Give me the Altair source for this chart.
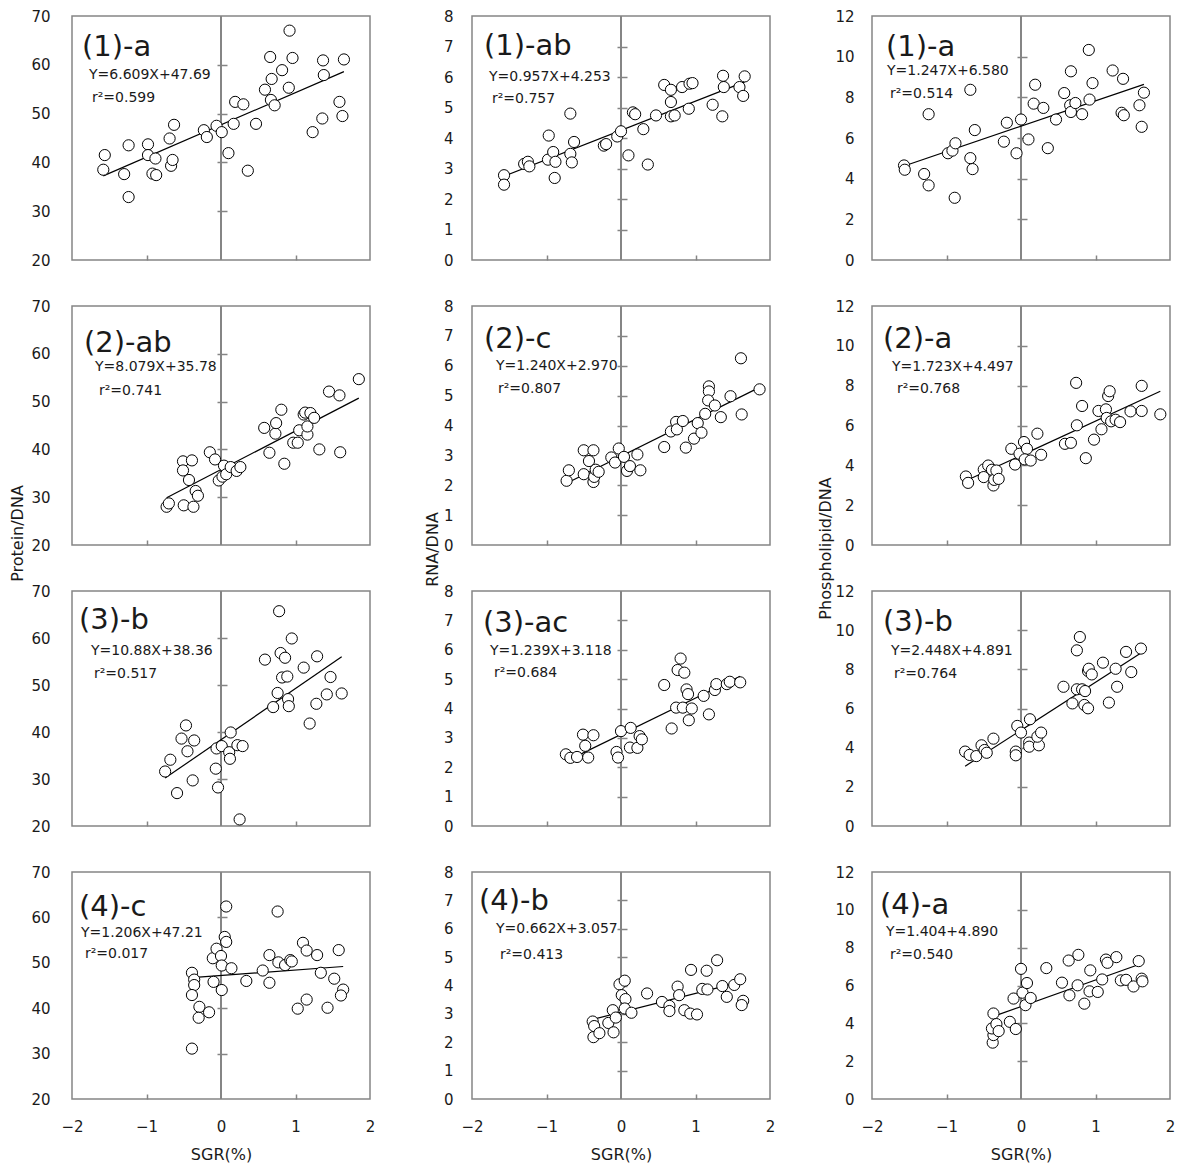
import altair as alt
import pandas as pd

FONT = "DejaVu Sans"
GRAY = "#858585"
INK = "#1a1a1a"

# ---------------- data (SGR %, ratio) ----------------
prot1_x = [-1.56,-1.58,-1.30,-1.24,-1.24,-0.98,-0.98,-0.88,-0.92,-0.87,-0.69,-0.67,-0.65,-0.63,-0.23,-0.19,-0.06,0.01,0.10,0.19,0.17,0.30,0.36,0.47,0.59,0.66,0.68,0.67,0.72,0.82,0.92,0.91,0.96,1.23,1.36,1.37,1.38,1.59,1.63,1.65]
prot1_y = [41.5,38.5,37.6,43.5,32.9,43.7,41.5,40.8,37.7,37.4,44.9,39.3,40.5,47.7,46.6,45.2,47.5,46.2,41.9,52.4,47.9,51.9,38.3,47.9,54.9,61.6,57.1,52.8,51.7,58.9,67.0,55.3,61.4,46.2,49.0,60.9,57.9,52.4,49.5,61.1]
rna1_x = [-1.57,-1.57,-1.30,-1.25,-1.23,-0.97,-0.98,-0.91,-0.88,-0.89,-0.68,-0.68,-0.66,-0.63,-0.23,-0.20,-0.05,0.00,0.10,0.16,0.19,0.30,0.36,0.47,0.58,0.67,0.67,0.67,0.72,0.82,0.92,0.96,0.91,1.23,1.37,1.38,1.36,1.59,1.66,1.64]
rna1_y = [2.78,2.47,3.15,3.22,3.07,4.08,3.29,3.54,3.22,2.69,4.80,3.48,3.20,3.87,3.75,3.80,4.05,4.22,3.43,4.84,4.78,4.29,3.13,4.74,5.74,5.58,5.18,4.71,4.74,5.67,5.78,5.80,4.96,5.09,6.04,5.67,4.71,5.67,6.02,5.38]
phos1_x = [-1.57,-1.56,-1.30,-1.24,-1.24,-0.98,-0.92,-0.88,-0.89,-0.68,-0.68,-0.65,-0.62,-0.23,-0.19,-0.06,0.00,0.10,0.17,0.19,0.30,0.36,0.47,0.58,0.67,0.66,0.67,0.73,0.82,0.91,0.92,0.96,1.23,1.37,1.35,1.38,1.59,1.65,1.62]
phos1_y = [4.65,4.44,4.23,7.17,3.67,5.25,5.38,5.74,3.06,8.37,5.01,4.47,6.39,5.82,6.75,5.25,6.91,5.93,7.69,8.62,7.48,5.50,6.91,8.21,9.28,7.61,7.28,7.72,7.17,10.33,7.89,8.70,9.32,8.91,7.24,7.12,7.61,8.23,6.55]

prot2_x = [-0.73,-0.70,-0.51,-0.51,-0.50,-0.43,-0.39,-0.37,-0.34,-0.31,-0.15,-0.08,-0.03,0.02,0.04,0.07,0.13,0.21,0.26,0.58,0.65,0.73,0.74,0.81,0.85,0.97,1.03,1.05,1.11,1.13,1.16,1.16,1.20,1.25,1.32,1.45,1.59,1.60,1.85]
prot2_y = [28.0,28.7,37.5,35.6,28.3,33.6,37.7,28.0,31.3,30.3,39.4,37.9,33.5,34.3,36.6,34.8,36.3,35.5,36.3,44.5,39.3,43.3,45.5,48.3,37.0,41.4,41.4,44.0,47.3,47.7,43.1,44.8,47.6,46.6,40.0,52.1,51.3,39.4,54.7]
rna2_x = [-0.73,-0.70,-0.50,-0.50,-0.43,-0.37,-0.37,-0.36,-0.34,-0.30,-0.13,-0.08,-0.03,0.04,0.08,0.12,0.22,0.26,0.58,0.67,0.74,0.75,0.83,0.87,0.98,1.03,1.08,1.13,1.18,1.18,1.17,1.26,1.34,1.47,1.61,1.62,1.86]
rna2_y = [2.15,2.50,3.17,2.37,2.81,3.17,2.11,2.28,2.52,2.45,2.93,2.76,3.23,2.95,2.48,2.64,3.03,2.50,3.28,3.80,4.12,3.87,4.15,3.26,3.56,4.08,3.76,4.39,5.31,5.14,4.84,4.67,4.28,4.98,6.25,4.37,5.21]
phos2_x = [-0.74,-0.71,-0.50,-0.50,-0.44,-0.39,-0.37,-0.36,-0.33,-0.30,-0.13,-0.08,-0.02,0.04,0.08,0.05,0.13,0.22,0.27,0.59,0.67,0.74,0.75,0.82,0.87,0.98,1.04,1.08,1.14,1.15,1.17,1.19,1.21,1.27,1.33,1.47,1.62,1.62,1.87]
phos2_y = [3.44,3.12,3.79,3.41,3.99,3.78,2.99,3.27,3.74,3.32,4.83,4.04,4.58,5.17,4.83,4.30,4.24,5.59,4.53,5.08,5.13,8.14,6.01,6.98,4.36,5.29,6.73,5.81,6.81,6.38,7.48,7.72,6.21,6.29,6.17,6.71,7.99,6.73,6.56]

prot3_x = [-0.75,-0.68,-0.59,-0.53,-0.47,-0.45,-0.38,-0.36,-0.07,-0.06,-0.04,0.01,0.11,0.12,0.13,0.22,0.29,0.25,0.59,0.70,0.76,0.78,0.80,0.82,0.86,0.89,0.90,0.91,0.95,1.11,1.19,1.28,1.29,1.42,1.47,1.62]
prot3_y = [31.6,34.1,27.0,38.6,41.4,35.9,29.7,38.2,32.2,36.5,28.2,37.0,35.7,34.3,39.9,37.2,37.0,21.4,55.4,45.3,48.3,65.7,56.8,51.6,55.8,51.8,47.0,45.5,59.9,53.7,41.8,46.0,56.1,48.0,51.7,48.2]
rna3_x = [-0.74,-0.68,-0.59,-0.51,-0.48,-0.44,-0.37,-0.06,-0.04,0.00,0.12,0.13,0.22,0.25,0.28,0.58,0.68,0.74,0.76,0.80,0.85,0.83,0.88,0.90,0.91,0.95,1.11,1.18,1.26,1.28,1.42,1.46,1.60]
rna3_y = [2.44,2.32,2.35,3.11,2.73,2.33,3.09,2.52,2.33,3.23,2.67,3.34,2.66,3.06,2.95,4.80,3.32,4.03,5.31,5.70,5.22,4.03,4.65,4.49,3.60,4.00,4.43,3.80,4.63,4.83,4.83,4.91,4.89]
phos3_x = [-0.75,-0.69,-0.60,-0.53,-0.49,-0.46,-0.37,-0.07,-0.07,-0.05,0.00,0.12,0.11,0.11,0.24,0.22,0.27,0.57,0.69,0.75,0.75,0.79,0.82,0.86,0.85,0.90,0.90,0.91,0.95,1.10,1.18,1.27,1.29,1.41,1.48,1.61]
phos3_y = [3.80,3.63,3.57,4.12,3.88,3.74,4.46,3.80,3.61,5.11,4.77,5.45,4.26,4.05,4.12,4.56,4.77,7.11,6.26,6.98,8.97,9.65,6.98,6.89,6.18,6.01,7.91,8.03,7.74,8.34,6.30,8.03,7.11,8.89,7.86,9.06]

prot4_x = [-0.39,-0.39,-0.36,-0.36,-0.39,-0.29,-0.30,-0.16,-0.11,-0.10,-0.06,0.00,0.01,0.01,0.05,0.07,0.07,0.14,0.34,0.56,0.65,0.65,0.77,0.76,0.86,0.93,0.95,1.03,1.10,1.15,1.15,1.29,1.34,1.43,1.52,1.58,1.64,1.61]
prot4_y = [31.1,47.8,46.3,45.1,42.9,40.3,37.9,39.1,51.0,45.8,53.1,51.5,49.4,44.0,55.7,54.6,62.4,48.8,46.0,48.3,45.6,51.7,50.1,61.3,49.5,50.6,50.3,39.9,54.4,52.7,41.9,51.7,47.8,40.1,46.5,52.8,44.1,42.8]
rna4_x = [-0.38,-0.36,-0.37,-0.29,-0.17,-0.11,-0.10,-0.07,-0.02,0.01,0.05,0.06,0.05,0.14,0.35,0.55,0.65,0.65,0.76,0.78,0.85,0.94,0.93,1.02,1.09,1.15,1.16,1.29,1.36,1.42,1.52,1.60,1.64,1.62]
rna4_y = [2.73,2.57,2.18,2.32,2.68,3.13,2.35,2.87,4.04,3.66,4.17,3.52,3.19,3.04,3.72,3.42,3.28,3.10,3.96,3.66,3.13,4.55,3.01,2.98,3.88,4.52,3.86,4.89,3.98,3.60,4.02,4.22,3.46,3.31]
phos4_x = [-0.37,-0.38,-0.37,-0.39,-0.33,-0.30,-0.15,-0.10,-0.07,0.00,0.02,0.06,0.08,0.13,0.34,0.55,0.64,0.65,0.76,0.77,0.85,0.93,0.92,1.03,1.09,1.14,1.16,1.28,1.34,1.41,1.51,1.58,1.62,1.63]
phos4_y = [4.52,2.98,3.38,3.73,3.96,3.59,4.08,5.31,3.70,6.88,5.62,4.96,6.13,5.34,6.92,6.15,7.32,5.48,6.01,7.62,5.04,6.80,5.69,5.66,6.32,7.37,7.20,7.50,6.27,6.30,5.95,7.29,6.36,6.22]

panel_labels = [["(1)-a", "(1)-ab", "(1)-a"],
                ["(2)-ab", "(2)-c", "(2)-a"],
                ["(3)-b", "(3)-ac", "(3)-b"],
                ["(4)-c", "(4)-b", "(4)-a"]]
eq_texts = [["Y=6.609X+47.69", "Y=0.957X+4.253", "Y=1.247X+6.580"],
            ["Y=8.079X+35.78", "Y=1.240X+2.970", "Y=1.723X+4.497"],
            ["Y=10.88X+38.36", "Y=1.239X+3.118", "Y=2.448X+4.891"],
            ["Y=1.206X+47.21", "Y=0.662X+3.057", "Y=1.404+4.890"]]
r2_texts = [["r²=0.599", "r²=0.757", "r²=0.514"],
            ["r²=0.741", "r²=0.807", "r²=0.768"],
            ["r²=0.517", "r²=0.684", "r²=0.764"],
            ["r²=0.017", "r²=0.413", "r²=0.540"]]
slopes = [[6.609, 0.957, 1.247], [8.079, 1.240, 1.723], [10.88, 1.239, 2.448], [1.206, 0.662, 1.404]]
intercepts = [[47.69, 4.253, 6.580], [35.78, 2.970, 4.497], [38.36, 3.118, 4.891], [47.21, 3.057, 4.890]]

series = [[(prot1_x, prot1_y), (rna1_x, rna1_y), (phos1_x, phos1_y)],
          [(prot2_x, prot2_y), (rna2_x, rna2_y), (phos2_x, phos2_y)],
          [(prot3_x, prot3_y), (rna3_x, rna3_y), (phos3_x, phos3_y)],
          [(prot4_x, prot4_y), (rna4_x, rna4_y), (phos4_x, phos4_y)]]

y_domains = [[20, 70], [0, 8], [0, 12]]
y_ticks = [[20, 30, 40, 50, 60, 70], [0, 1, 2, 3, 4, 5, 6, 7, 8], [0, 2, 4, 6, 8, 10, 12]]
y_titles = ["Protein/DNA", "RNA/DNA", "Phospholipid/DNA"]
x_ticks = [-2, -1, 0, 1, 2]
x_title = "SGR(%)"

# ---------------- layout / style ----------------
W = 298
heights = [244, 239, 235, 227]
label_pad = [22, 19, 18]
title_x = [-55, -40, -47]
title_y = [227, 243, 242]
# (label x, label y, eq x, eq y, r2 x, r2 y) relative to the plot box
text_pos = [[(10, 31, 17, 59, 20, 82), (12, 30, 17, 61, 20, 83), (14, 31, 15, 55, 18, 78)],
            [(12, 37, 23, 61, 27, 85), (12, 33, 24, 60, 26, 83), (11, 33, 20, 61, 25, 83)],
            [(7, 29, 19, 60, 22, 83), (11, 32, 18, 60, 22, 82), (11, 31, 19, 60, 22, 83)],
            [(7, 35, 9, 61, 13, 82), (7, 29, 24, 57, 28, 83), (8, 33, 14, 60, 18, 83)]]


def text_layer(s, px, py, size):
    return alt.Chart(pd.DataFrame({"t": [s]})).mark_text(
        align="left", baseline="middle", fontSize=size, font=FONT, color=INK
    ).encode(x=alt.value(px), y=alt.value(py), text="t:N")


def panel(r, c):
    xs, ys = series[r][c]
    H = heights[r]
    pts = pd.DataFrame({"x": xs, "y": ys})
    x0, x1 = min(xs), max(xs)
    m, b = slopes[r][c], intercepts[r][c]
    fit = pd.DataFrame({"x": [x0, x1], "y": [m * x0 + b, m * x1 + b]})
    xsc = alt.Scale(domain=[-2, 2], nice=False, zero=False)
    ysc = alt.Scale(domain=y_domains[c], nice=False, zero=False)

    yargs = dict(orient="left", values=y_ticks[c], domain=False, ticks=False, grid=False,
                 labelPadding=label_pad[c], labelFontSize=15, labelColor=INK,
                 labelFlush=False, labelOverlap=False)
    if r == 1:
        yargs.update(titleX=title_x[c], titleY=title_y[c], titleAngle=270, titleAlign="center",
                     titleBaseline="middle", titleFontSize=16, titleFontWeight="normal",
                     titleColor=INK)
        ytitle = y_titles[c]
    else:
        ytitle = None

    if r == 3:
        xenc = alt.X("x:Q", scale=xsc, title=x_title,
                     axis=alt.Axis(orient="bottom", values=x_ticks, domain=False, ticks=False,
                                   grid=False, labelPadding=20, labelFontSize=15,
                                   labelColor=INK, labelFlush=False, labelOverlap=False,
                                   titlePadding=12, titleFontSize=16,
                                   titleFontWeight="normal", titleColor=INK))
    else:
        xenc = alt.X("x:Q", scale=xsc, axis=None)

    points = alt.Chart(pts).mark_point(
        shape="circle", filled=True, fill="white", stroke="black",
        strokeWidth=1, size=125, opacity=1
    ).encode(x=xenc, y=alt.Y("y:Q", scale=ysc, title=ytitle, axis=alt.Axis(**yargs)))

    fitline = alt.Chart(fit).mark_line(color="black", strokeWidth=1.2).encode(
        x=alt.X("x:Q", scale=xsc, title=None,
                axis=alt.Axis(orient="top", offset=-H, values=[-1, 1], labels=False,
                              domain=False, grid=False, tickSize=5, tickColor=GRAY,
                              tickWidth=1.5)),
        y=alt.Y("y:Q", scale=ysc, title=None,
                axis=alt.Axis(orient="left", offset=-(W / 2 + 6), values=y_ticks[c][1:-1],
                              labels=False, domain=False, grid=False, tickSize=10,
                              tickColor=GRAY, tickWidth=1.5)),
    )

    zero = alt.Chart(pd.DataFrame({"x": [0]})).mark_rule(color=GRAY, strokeWidth=2).encode(
        x=alt.X("x:Q", scale=xsc, axis=None)
    )

    lx, ly, ex, ey, rx, ry = text_pos[r][c]
    t1 = text_layer(panel_labels[r][c], lx, ly, 29)
    t2 = text_layer(eq_texts[r][c], ex, ey, 14)
    t3 = text_layer(r2_texts[r][c], rx, ry, 14)

    return alt.layer(zero, fitline, points, t1, t2, t3).resolve_axis(
        x="independent", y="independent"
    ).properties(width=W, height=H)


panels = [panel(r, c) for r in range(4) for c in range(3)]

chart = alt.concat(
    *panels, columns=3, spacing={"row": 46, "column": 102}, bounds="flush"
).properties(
    padding={"left": 0, "top": 0, "right": 0, "bottom": 0}
).configure(font=FONT).configure_view(stroke=GRAY, strokeWidth=1.5).configure_axis(
    labelFont=FONT, titleFont=FONT
)

chart.save("out.html", embed_options={"renderer": "svg", "actions": False})
